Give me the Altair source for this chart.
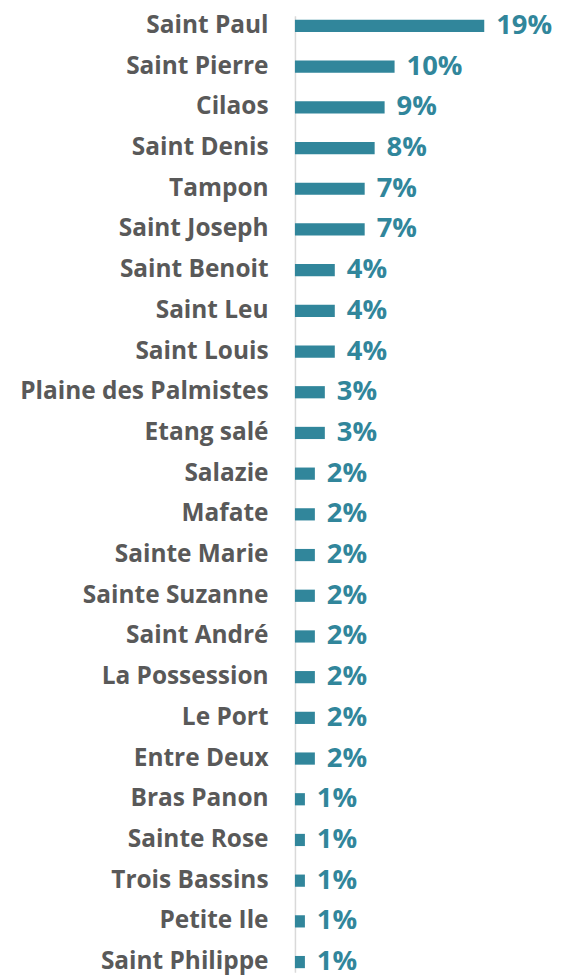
import altair as alt
import pandas as pd

communes = ["Saint Paul", "Saint Pierre", "Cilaos", "Saint Denis", "Tampon", "Saint Joseph",
            "Saint Benoit", "Saint Leu", "Saint Louis", "Plaine des Palmistes", "Etang salé",
            "Salazie", "Mafate", "Sainte Marie", "Sainte Suzanne", "Saint André", "La Possession",
            "Le Port", "Entre Deux", "Bras Panon", "Sainte Rose", "Trois Bassins", "Petite Ile",
            "Saint Philippe"]
pct = [19, 10, 9, 8, 7, 7, 4, 4, 4, 3, 3, 2, 2, 2, 2, 2, 2, 2, 2, 1, 1, 1, 1, 1]

df = pd.DataFrame({"commune": communes, "pct": pct})

TEAL = "#31869B"
FONT = "Open Sans"

y_enc = alt.Y("commune:N", sort=communes, title=None,
              scale=alt.Scale(paddingInner=0.7, paddingOuter=0.1),
              axis=alt.Axis(ticks=False, labelPadding=27, labelFont=FONT, labelFontSize=24.5,
                            labelFontWeight="bold", labelColor="#595959", labelLimit=400,
                            domainColor="#D9D9D9", domainWidth=1.5, grid=False))
x_enc = alt.X("pct:Q", title=None, scale=alt.Scale(domain=[0, 25]), axis=None)

bars = alt.Chart(df).mark_bar(color=TEAL).encode(x=x_enc, y=y_enc)
labels = alt.Chart(df).transform_calculate(lbl="datum.pct + '%'").mark_text(
    align="left", baseline="middle", dx=12, dy=0, font=FONT, fontSize=27.5,
    fontWeight="bold", color=TEAL).encode(x=x_enc, y=y_enc, text="lbl:N")

chart = (bars + labels).properties(
    width=250, height=960,
    padding={"top": 2, "left": 11, "right": 0, "bottom": 0}
).configure_view(stroke=None)
chart.save("out.html", embed_options={"renderer": "svg", "actions": False})
